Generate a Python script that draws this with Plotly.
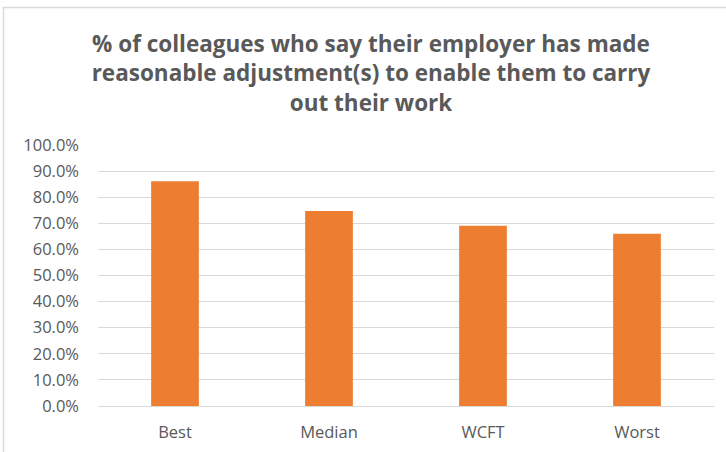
import plotly.graph_objects as go

categories = ["Best", "Median", "WCFT", "Worst"]
values = [86.1, 74.7, 69.1, 66.0]
y_ticks = [0, 10, 20, 30, 40, 50, 60, 70, 80, 90, 100]
y_tick_labels = [f"{v:.1f}%" for v in y_ticks]

W, H = 726, 452
L, R, T, B = 98, 12, 145, 46
pw, ph = W - L - R, H - T - B

fig = go.Figure(go.Bar(x=categories, y=values, marker=dict(color="#ED7D31", line=dict(width=0)),
                       width=0.31))

def px_x(px):
    return (px - L) / pw

def px_y(py):
    return 1 - (py - T) / ph

fig.update_layout(
    width=W, height=H,
    margin=dict(l=L, r=R, t=T, b=B, autoexpand=False),
    paper_bgcolor="white", plot_bgcolor="white",
    showlegend=False,
    title=dict(
        text="% of colleagues who say their employer has made<br>reasonable adjustment(s) to enable them to carry<br>out their work",
        x=371 / W, xanchor="center", xref="container",
        y=1 - 52 / H, yanchor="middle", yref="container",
        font=dict(family="Open Sans", size=22.5, color="#595959", weight="bold"),
    ),
    font=dict(family="Open Sans", color="#595959"),
    xaxis=dict(showgrid=False, showline=False, ticks="", tickfont=dict(size=16.5, color="#595959"),
               range=[-0.5, 3.5], fixedrange=True, ticklabelstandoff=14, automargin=False),
    yaxis=dict(range=[0, 100], tickvals=y_ticks, ticktext=y_tick_labels, automargin=False,
               showgrid=True, gridcolor="#d9d9d9", gridwidth=1.3, zeroline=True, zerolinecolor="#d9d9d9",
               zerolinewidth=1.3, showline=False, ticks="", tickfont=dict(size=16.5, color="#595959"),
               ticklabelstandoff=18),
    shapes=[dict(type="rect", xref="paper", yref="paper",
                 x0=px_x(3.5), x1=px_x(740), y0=px_y(470), y1=px_y(7.5),
                 line=dict(color="#d9d9d9", width=1.5), fillcolor="rgba(0,0,0,0)", layer="below")],
)

fig.write_html("out.html")
